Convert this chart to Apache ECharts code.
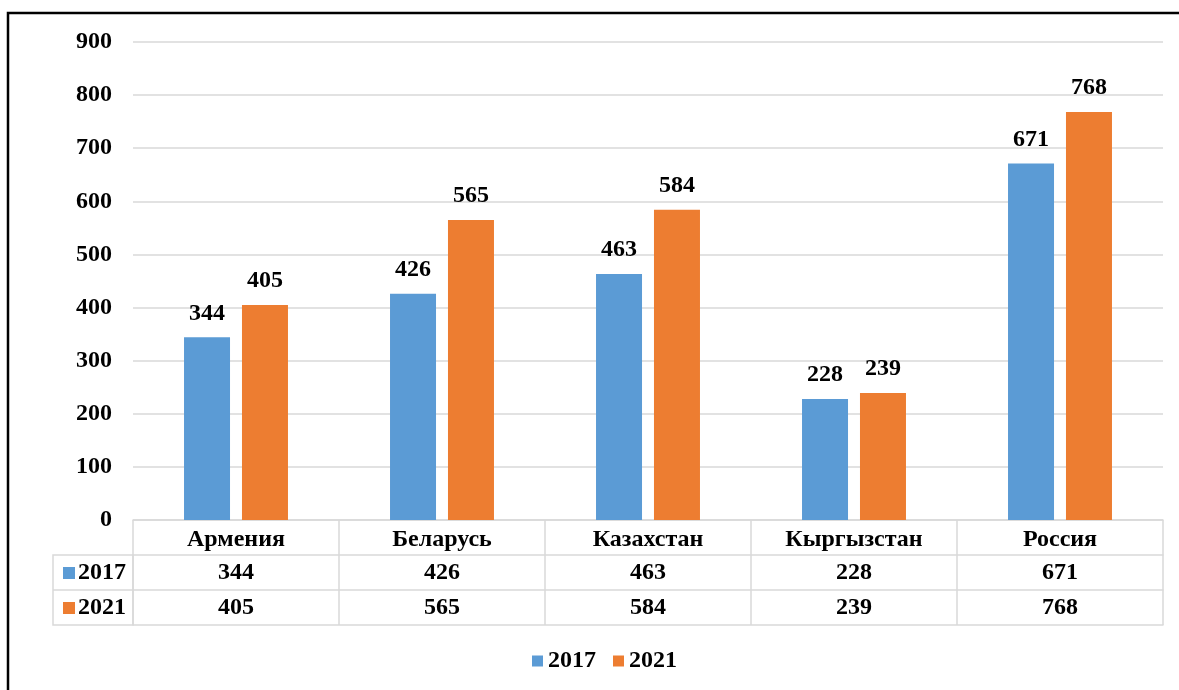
<!DOCTYPE html>
<html>
<head>
<meta charset="utf-8">
<script src="https://cdn.jsdelivr.net/npm/echarts@6/dist/echarts.min.js"></script>
<style>html,body{margin:0;padding:0;background:#fff}#c{width:1179px;height:690px}</style>
</head>
<body>
<div id="c"></div>
<script>
// ---- data ----
var categories = ['Армения', 'Беларусь', 'Казахстан', 'Кыргызстан', 'Россия'];
var seriesNames = ['2017', '2021'];
var v2017 = [344, 426, 463, 228, 671];
var v2021 = [405, 565, 584, 239, 768];
var yMin = 0, yMax = 900, yStep = 100;

// ---- style / layout ----
var FONT = "'Liberation Serif', 'Times New Roman', serif";
var FS = 24;
var BLUE = '#5B9BD5', ORANGE = '#ED7D31', GRIDC = '#D9D9D9';
var G = { left: 133, right: 16, top: 42, bottom: 170 };
var ROW = 35;
var W = 1179, H = 690;
var gridBottomY = H - G.bottom;
var leftColX = 53;

var chart = echarts.init(document.getElementById('c'), null, { renderer: 'canvas' });

function txt(extra) {
  var o = { fontFamily: FONT, fontWeight: 'bold', fontSize: FS, color: '#000' };
  for (var k in extra) o[k] = extra[k];
  return o;
}

function rowAxis(offset, values, name, color) {
  return {
    type: 'category', gridIndex: 0, position: 'bottom', offset: offset,
    data: categories,
    axisLine: { show: true, onZero: false, lineStyle: { color: GRIDC, width: 1.5 } },
    axisTick: { show: false },
    axisLabel: values ? {
      interval: 0, margin: 6,
      formatter: function (v, i) { return String(values[i]); },
      fontFamily: FONT, fontWeight: 'bold', fontSize: FS, color: '#000'
    } : { show: false },
    name: name ? '{sq| }{t|' + name + '}' : '',
    nameLocation: 'start', nameGap: 7,
    nameTextStyle: name ? {
      verticalAlign: 'top', padding: [6, 0, 0, 0], align: 'right',
      rich: {
        sq: { width: 12, height: 12, backgroundColor: color },
        t: { fontFamily: FONT, fontWeight: 'bold', fontSize: FS, color: '#000', padding: [0, 0, 0, 3] }
      }
    } : {}
  };
}

var option = {
  animation: false,
  backgroundColor: '#fff',
  grid: { left: G.left, right: G.right, top: G.top, bottom: G.bottom, containLabel: false },
  legend: {
    data: seriesNames, left: 527, top: 644, itemWidth: 11, itemHeight: 11, itemGap: 17,
    icon: 'rect', textStyle: txt({ padding: [0, 0, 0, 0] })
  },
  xAxis: [
    {
      type: 'category', gridIndex: 0, position: 'bottom', data: categories,
      axisLine: { show: true, onZero: false, lineStyle: { color: GRIDC, width: 1.5 } },
      axisTick: { show: true, interval: 0, length: ROW * 3, inside: false, lineStyle: { color: GRIDC, width: 1.5 } },
      axisLabel: { interval: 0, margin: 8, fontFamily: FONT, fontWeight: 'bold', fontSize: FS, color: '#000' }
    },
    rowAxis(ROW, v2017, seriesNames[0], BLUE),
    rowAxis(ROW * 2, v2021, seriesNames[1], ORANGE),
    rowAxis(ROW * 3, null, null, null)
  ],
  yAxis: {
    type: 'value', min: yMin, max: yMax, interval: yStep,
    axisLine: { show: false }, axisTick: { show: false },
    splitLine: { lineStyle: { color: GRIDC, width: 1.5 } },
    axisLabel: { margin: 21, fontFamily: FONT, fontWeight: 'bold', fontSize: FS, color: '#000' }
  },
  series: [
    {
      name: seriesNames[0], type: 'bar', xAxisIndex: 0, data: v2017, barWidth: 46, barGap: '26%',
      itemStyle: { color: BLUE },
      label: { show: true, position: 'top', distance: 12, fontFamily: FONT, fontWeight: 'bold', fontSize: FS, color: '#000' }
    },
    {
      name: seriesNames[1], type: 'bar', xAxisIndex: 0, data: v2021, barWidth: 46, barGap: '26%',
      itemStyle: { color: ORANGE },
      label: { show: true, position: 'top', distance: 12, fontFamily: FONT, fontWeight: 'bold', fontSize: FS, color: '#000' }
    }
  ],
  graphic: [
    { type: 'rect', silent: true, shape: { x: 8, y: 13, width: W + 20, height: H + 20 },
      style: { fill: 'none', stroke: '#000', lineWidth: 2.5 }, z: 100 },
    { type: 'rect', silent: true,
      shape: { x: leftColX, y: gridBottomY + ROW, width: G.left - leftColX, height: ROW * 2 },
      style: { fill: 'none', stroke: GRIDC, lineWidth: 1.5 } },
    { type: 'line', silent: true,
      shape: { x1: leftColX, y1: gridBottomY + ROW * 2, x2: G.left, y2: gridBottomY + ROW * 2 },
      style: { stroke: GRIDC, lineWidth: 1.5 } }
  ]
};
chart.setOption(option);
</script>
</body>
</html>
